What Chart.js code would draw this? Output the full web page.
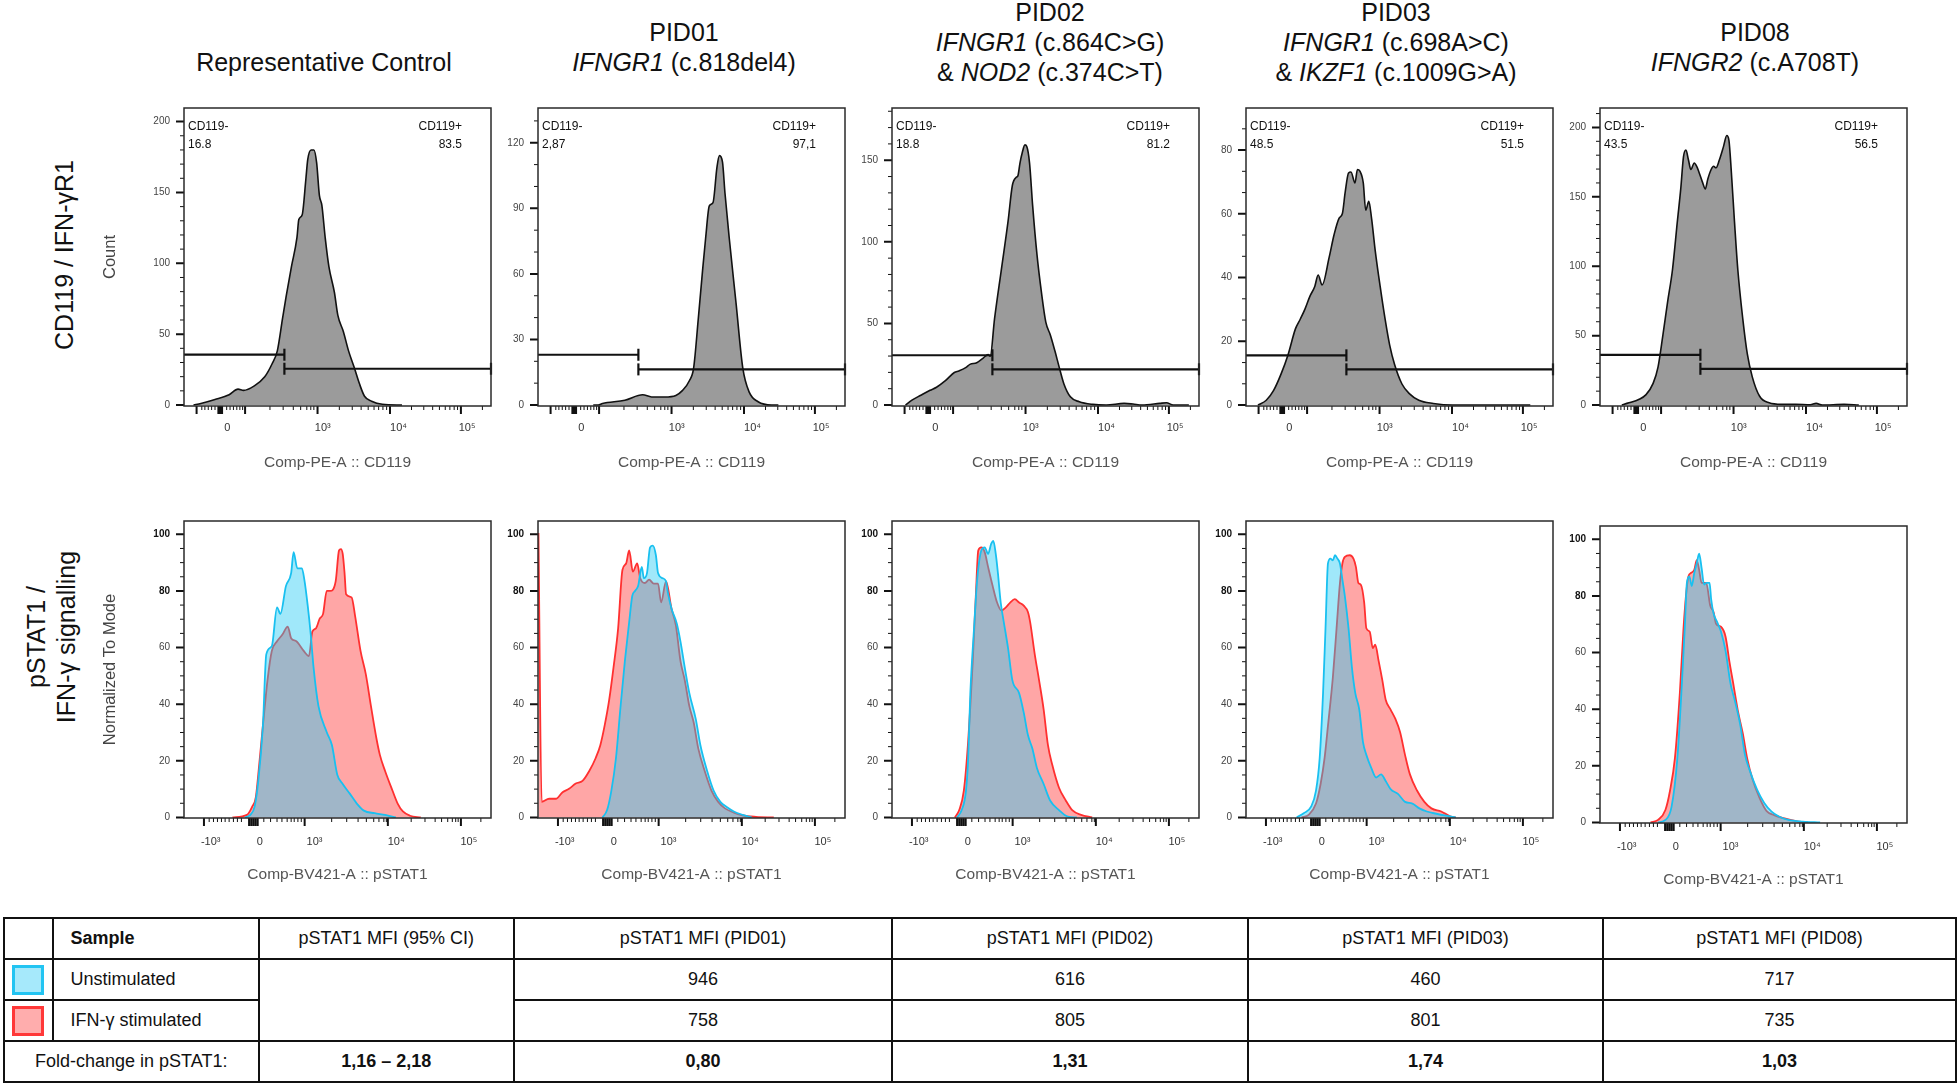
<!DOCTYPE html>
<html>
<head>
<meta charset="utf-8">
<script src="https://cdn.jsdelivr.net/npm/chart.js@4.4.1/dist/chart.umd.min.js"></script>
<style>
html,body{margin:0;padding:0;background:#fff;}
body{width:1959px;height:1088px;position:relative;overflow:hidden;font-family:"Liberation Sans",Arial,sans-serif;color:#111;}
canvas{position:absolute;}
.title{position:absolute;width:440px;text-align:center;font-size:25px;line-height:30px;transform:translateX(-50%);white-space:nowrap;}
.rot{position:absolute;font-size:25px;line-height:30px;white-space:nowrap;text-align:center;transform:translate(-50%,-50%) rotate(-90deg);}
table{position:absolute;left:3px;top:917px;width:1952px;table-layout:fixed;border-collapse:collapse;font-size:18px;color:#111;}
td{border:2px solid #111;text-align:center;padding:0;height:39px;white-space:nowrap;}
td.lft{text-align:left;padding-left:17px;}
.sw{width:26px;height:24px;margin:0 auto;}
</style>
</head>
<body>
<script>
// ================= DATA =================
const panelTitleLines = [
  ['Representative Control'],
  ['PID01', '*IFNGR1* (c.818del4)'],
  ['PID02', '*IFNGR1* (c.864C>G)', '& *NOD2* (c.374C>T)'],
  ['PID03', '*IFNGR1* (c.698A>C)', '& *IKZF1* (c.1009G>A)'],
  ['PID08', '*IFNGR2* (c.A708T)']
];
const rowLabelTop = 'CD119 / IFN-γR1';
const rowLabelBottom = ['pSTAT1 /', 'IFN-γ signalling'];
const cd119AxisTitle = 'Comp-PE-A :: CD119';
const pstatAxisTitle = 'Comp-BV421-A :: pSTAT1';
const cd119YTitle = 'Count';
const pstatYTitle = 'Normalized To Mode';

// --- CD119 histograms (x: display channel 0-1000, y: count) ---
const ctrlCD119X = [31,55,101,147,176,194,229,263,287,304,321,333,350,368,374,385,397,403,414,423,432,441,449,460,472,490,501,519,536,554,571,588,611,646,710];
const ctrlCD119Y = [0,1.1,3.9,7.3,11.2,10.3,13.5,19.9,29.1,38.2,61.1,77.1,97.7,118.3,130.9,134.3,159.5,173.2,180,180,171,148,141,118,97.7,79.4,63.4,51.9,38.2,26.8,15.3,6.2,2.7,0.5,0];
const pid01CD119X = [180,196,210,283,341,370,413,449,471,493,507,522,536,546,558,570,583,591,601,609,623,645,667,688,717,761,783];
const pid01CD119Y = [0,0,0.7,2.2,4.7,3.7,3.7,4.4,6.7,11.1,17.0,39.3,61.5,76.3,91.1,92.6,108.9,114.1,111.1,97.0,76.3,46.7,17.0,5.9,1.5,0,0];
const pid02CD119X = [44,65,94,124,145,174,203,218,240,254,276,298,313,320,334,356,378,392,404,410,417,424,433,439,448,458,472,487,501,516,531,545,560,581,610,654,698,756,785,814,872,894,916,967];
const pid02CD119Y = [0,3.0,6.0,9.0,10.9,14.9,19.9,20.9,22.9,24.9,25.9,28.9,30.9,29.9,52.8,82.7,112.5,134.5,139.4,140.4,148.4,154.4,159.4,158.4,148.4,122.5,92.6,68.7,50.8,42.8,32.9,22.9,12.9,5.0,2.0,0.4,0,1.0,0.6,0,1.0,1.4,0,0];
const pid03CD119X = [39,66,90,114,137,161,177,192,208,224,235,248,271,287,303,314,323,334,342,355,363,371,382,390,400,409,421,437,453,468,484,508,532,563,610,673,768,926];
const pid03CD119Y = [0,1.5,4.6,9.7,15.8,23.9,27.0,30.1,34.1,37.2,40.8,37.7,46.4,53.5,58.6,60.1,66.7,72.8,73.1,69.7,73.9,73.4,69.7,61.1,63.9,58.6,48.4,37.2,27.0,18.8,12.7,6.6,3.6,1.5,0.5,0,0,0];
const pid08CD119X = [71,94,126,150,173,189,205,220,236,252,263,272,280,288,296,307,315,323,334,343,351,362,370,378,389,402,413,420,428,438,449,465,480,496,520,551,591,638,685,704,724,795,843];
const pid08CD119Y = [0,1.6,4.0,7.5,15.6,27.3,50.6,74.0,97.3,132.3,155.7,179.0,183.7,176.7,169.7,174.4,172.0,167.4,160.4,155.7,162.7,169.7,172.0,170.9,176.7,186.0,194.2,190.7,167.4,132.3,97.3,62.3,36.6,20.3,6.3,1.6,0.5,0.5,0.2,1.2,0,0.5,0];

// gates (x cut in channels, y levels in counts)
const gateCut = [327,327,327,327,327];
const gateNegLevel = [35.5,23.0,30.5,15.6,36.2];
const gatePosLevel = [25.6,16.3,21.9,11.2,26.1];
const gateNegName = 'CD119-';
const gatePosName = 'CD119+';
const gateNegPct = ['16.8','2,87','18.8','48.5','43.5'];
const gatePosPct = ['83.5','97,1','81.2','51.5','56.5'];

// --- pSTAT1 histograms (x: display channel 0-1000, y: % of mode) ---
const ctrlUnstimX = [199,216,230,242,257,268,286,303,314,332,349,357,369,384,392,403,413,422,438,465,482,499,517,540,563,586,621,655,690];
const ctrlUnstimY = [0,0.9,3.8,12.9,32.4,57.6,60.5,74.2,71.9,81.7,86.3,93.7,88,88,84,74.8,64.5,53,39.3,30.1,25.5,15.2,11.8,8.4,4.9,2.4,1.5,0.9,0];
const ctrlStimX = [158,205,222,234,245,257,272,286,303,320,338,349,366,390,407,418,430,442,453,465,476,494,505,511,517,523,528,546,557,575,592,609,627,638,655,679,696,713,736,771];
const ctrlStimY = [0,0.9,3.8,7.2,18.7,32.4,48.5,58.8,62.2,64.5,67.4,63.3,62.2,58.8,57,65.6,66.8,70.2,71.9,80,80,83.4,94.3,94.8,93.1,86.3,78.8,77.7,71.4,58.8,50.7,39.3,27.8,22.1,16.4,9.5,4.9,2.1,0.6,0];
const pid01UnstimX = [210,225,239,254,268,283,297,307,316,326,338,345,355,365,374,384,391,406,417,423,435,452,464,478,493,514,529,551,572,594,616,638,667,696];
const pid01UnstimY = [0,2.6,9.5,21,38.1,55.3,69,78.2,80,81.7,88.5,84.5,86.3,95.4,96,92.6,86.3,84.5,83.4,79.4,73.7,68.5,62.2,53,43.9,34.7,25.5,16.4,9.5,5.5,3.6,2.1,0.9,0];
const pid01StimX = [1.5,12,36,58,80,101,123,145,167,188,203,217,232,246,261,275,287,297,309,323,333,348,362,377,391,401,417,435,449,464,478,493,507,522,543,565,587,609,638,667,710,768];
const pid01StimY = [100.5,5.5,6.6,6.6,8.9,10.1,12,12.9,16.4,21,25.5,32.4,41.6,53,66.8,87.4,89.7,94.3,86.8,89.7,84.5,82.8,84,82.6,82.6,76,83.4,73.7,67.9,55.3,48.5,39.3,33.6,24.4,16.4,9.5,5.5,3.2,1.7,0.7,0.2,0];
const pid02UnstimX = [212,227,241,248,255,267,277,291,302,313,323,330,338,345,354,364,378,392,414,429,443,457,472,494,515,544,573,602];
const pid02UnstimY = [0,2.6,9.5,20.6,43.5,66.4,83.4,94.3,95.4,93.1,96.6,97.7,93.1,86.3,76,69.1,59.8,48.5,43.9,37.1,29,24.4,17.5,11.8,6,2.6,0.3,0];
const pid02StimX = [205,219,234,248,263,273,281,291,302,313,328,342,356,371,385,400,414,429,443,450,465,479,494,508,522,544,566,587,616,652];
const pid02StimY = [0,2.6,9.5,26.8,55.3,78.2,94.3,95.4,93.7,88.5,81.7,76,73.1,74.2,75.9,77.1,75.9,74.8,72.5,69,57.6,48.5,38.1,25.5,18.6,10.5,6,2.6,0.9,0];
const pid03UnstimX = [165,188,212,228,240,251,259,267,275,283,290,298,306,314,322,334,345,356,369,381,392,408,424,440,455,471,495,518,542,565,589,620,652,683];
const pid03UnstimY = [0,1.5,3.8,9.5,21,43.9,66.8,89.7,91.4,90.8,92.6,91.4,89.7,84,78.2,66.8,53,43.9,38.1,26.7,22.1,17.5,14.1,15.2,12.9,10,8.3,5.5,4.9,3.2,2.1,1.3,0.6,0];
const pid03StimX = [181,204,228,243,256,267,283,295,306,314,322,338,350,358,366,374,385,392,403,413,421,432,444,455,471,487,502,518,534,557,581,604,636,667,683];
const pid03StimY = [0,0.9,4.9,11.8,21,32.4,49.6,66.8,82.8,89.7,92,92.6,91.4,88.5,82.8,82.2,75.9,66.8,65.6,59.8,61,55.3,48.5,41.6,38.1,34.7,30.1,22.1,15.2,9.5,5.5,3.2,2.1,0.3,0];
const pid08UnstimX = [189,213,233,252,265,276,283,291,299,307,315,323,331,339,346,357,362,370,381,394,409,425,441,457,472,488,512,535,559,583,614,661,717];
const pid08UnstimY = [0,0.9,5.5,22.7,45.6,68.5,84.6,86.9,83.5,88.1,91.5,94.9,89.8,84,84.6,84.6,78.9,73.8,70.9,67.4,60.6,49.1,42.3,34.4,24.1,18.3,11.5,6.9,3.8,2.1,0.9,0.3,0];
const pid08StimX = [165,189,213,228,244,260,272,280,288,296,307,315,323,331,346,359,370,378,394,409,422,433,449,465,480,496,520,543,567,598,646,677];
const pid08StimY = [0,0.9,4.4,11.2,22.7,45.6,68.5,80,86.9,88.1,89.2,92.6,89.2,84.6,84.6,76.6,74.2,70.2,69.1,65.6,56.5,49.7,39.5,31.5,22.3,15.5,8.6,4,2.6,1.5,0.3,0];

// --- axis ticks ---
const cd119TickPos = [141,452,699,922];
const cd119TickLabels = ['0','10³','10⁴','10⁵'];
const cd119MajorMarks = [41,112,116,120,124,199,435,671,902];
const cd119MinorMarks = [58,68,79,90,101,139,150,161,172,182,191,280,323,356,380,400,413,423,506,548,577,600,619,634,648,660,741,781,810,832,851,866,880,891,972];
const pstatTickPos = [87,247,425,691,928];
const pstatTickLabels = ['-10³','0','10³','10⁴','10⁵'];
const pstatMajorMarks = [65,212,219,226,233,240,393,664,902];
const pstatMinorMarks = [82,96,109,122,134,147,161,174,187,260,282,303,319,336,349,359,371,382,481,530,567,594,618,635,651,659,740,785,818,839,859,874,885,893,967];
const cd119YMin = [-0.7,-0.45,-0.6,-0.3,-0.7];
const cd119YMax = [209.6,135.9,182,93.2,214];
const cd119YStep = [50,30,50,20,50];
const cd119YMinorStep = [10,10,10,20/3,10];
const pstatYMin = -0.2, pstatYMax = 104.7, pstatYStep = 20, pstatYMinorStep = 5;

// --- table ---
const patientIds = ['PID01','PID02','PID03','PID08'];
const mfiUnstim = [946,616,460,717];
const mfiStim = [758,805,801,735];
const foldChange = ['0,80','1,31','1,74','1,03'];
const controlCI = '1,16 – 2,18';
const sampleHeader = 'Sample';
const rowNames = ['Unstimulated','IFN-γ stimulated'];
const foldLabel = 'Fold-change in pSTAT1:';

// ================= LAYOUT / STYLE =================
const FONT = "'Liberation Sans', Arial, sans-serif";
const PANEL_LEFT = [184,538,892,1246,1600];
const BOX_W = 307;
const TOP_BOX_TOP = [100,100,100,100,100], TOP_BOX_H = 306;
const BOT_BOX_TOP = [513,513,513,513,518], BOT_BOX_H = 305;
const TITLE_CENTER = [324,684,1050,1396,1755];
const TITLE_TOP = [47,17,-3,-3,17];
const Y_W = 90, PAD_T = 12, PAD_R = 14, X_H = 72;

Chart.defaults.font.family = FONT;

// titles
panelTitleLines.forEach((lines, i) => {
  const d = document.createElement('div');
  d.className = 'title';
  d.style.left = TITLE_CENTER[i] + 'px';
  d.style.top = TITLE_TOP[i] + 'px';
  lines.forEach((ln, j) => {
    if (j) d.appendChild(document.createElement('br'));
    ln.split('*').forEach((seg, k) => {
      if (!seg) return;
      if (k % 2) { const it = document.createElement('i'); it.textContent = seg; d.appendChild(it); }
      else d.appendChild(document.createTextNode(seg));
    });
  });
  document.body.appendChild(d);
});
(function(){
  const a = document.createElement('div'); a.className = 'rot';
  a.style.left = '64px'; a.style.top = '255px'; a.textContent = rowLabelTop;
  document.body.appendChild(a);
  const b = document.createElement('div'); b.className = 'rot';
  b.style.left = '51px'; b.style.top = '637px';
  b.appendChild(document.createTextNode(rowLabelBottom[0]));
  b.appendChild(document.createElement('br'));
  b.appendChild(document.createTextNode(rowLabelBottom[1]));
  document.body.appendChild(b);
})();

function stepList(max, step) { const r = []; for (let k = 0; k * step <= max + 1e-9; k++) r.push(k * step); return r; }
function minorList(max, minor, major) {
  const r = [];
  for (let k = 1; k * minor <= max + 1e-9; k++) {
    const v = k * minor, q = v / major;
    if (Math.abs(q - Math.round(q)) > 1e-6) r.push(v);
  }
  return r;
}
function pts(xs, ys) { return xs.map((x, i) => ({x: x, y: ys[i]})); }

function framePlugin(cfg) {
  return {
    id: 'frame',
    afterDraw(chart) {
      const {ctx, chartArea: a, scales} = chart;
      const xs = scales.x, ys = scales.y;
      ctx.save();
      ctx.strokeStyle = '#111';
      ctx.lineCap = 'butt';
      const xm = (list, len, w) => { ctx.lineWidth = w; ctx.beginPath(); list.forEach(v => { const p = xs.getPixelForValue(v); ctx.moveTo(p, a.bottom); ctx.lineTo(p, a.bottom + len); }); ctx.stroke(); };
      const ym = (list, len, w) => { ctx.lineWidth = w; ctx.beginPath(); list.forEach(v => { const p = ys.getPixelForValue(v); ctx.moveTo(a.left, p); ctx.lineTo(a.left - len, p); }); ctx.stroke(); };
      xm(cfg.xMinor, 4, 1); xm(cfg.xMajor, 8, 2);
      ym(cfg.yMinor, 4, 1); ym(cfg.yMajor, 8, 2);
      ctx.lineWidth = 1.5; ctx.strokeStyle = '#2a2a2a';
      ctx.strokeRect(a.left, a.top, a.right - a.left, a.bottom - a.top);
      if (cfg.gateText) {
        ctx.fillStyle = '#111';
        ctx.font = '12px ' + FONT;
        ctx.textBaseline = 'middle';
        ctx.textAlign = 'left';
        ctx.fillText(gateNegName, a.left + 4, a.top + 19);
        ctx.fillText(cfg.gateText[0], a.left + 4, a.top + 37);
        ctx.textAlign = 'right';
        ctx.fillText(gatePosName, a.right - 29, a.top + 19);
        ctx.fillText(cfg.gateText[1], a.right - 29, a.top + 37);
      }
      ctx.restore();
    }
  };
}

function makePanel(opt) {
  const cv = document.createElement('canvas');
  const w = Y_W + BOX_W + PAD_R, h = PAD_T + opt.boxH + X_H;
  cv.width = w; cv.height = h;
  cv.style.left = (opt.boxLeft - Y_W) + 'px';
  cv.style.top = (opt.boxTop - PAD_T) + 'px';
  cv.style.width = w + 'px'; cv.style.height = h + 'px';
  document.body.appendChild(cv);
  new Chart(cv.getContext('2d'), {
    type: 'line',
    data: {datasets: opt.datasets},
    options: {
      responsive: false, animation: false, devicePixelRatio: 1,
      layout: {padding: {top: PAD_T, right: PAD_R, left: 0, bottom: 0}},
      plugins: {legend: {display: false}, tooltip: {enabled: false}},
      elements: {point: {radius: 0}},
      scales: {
        x: {
          type: 'linear', min: 0, max: 1000,
          afterFit(s) { s.height = X_H; },
          afterBuildTicks(s) { s.ticks = opt.xTickPos.map(v => ({value: v})); },
          grid: {display: false, drawTicks: false}, border: {display: false},
          ticks: {autoSkip: false, maxRotation: 0, minRotation: 0, padding: opt.xPad, color: '#333',
                  font: {size: 11}, callback: v => opt.xTickLabels[opt.xTickPos.indexOf(v)]},
          title: {display: true, text: opt.xTitle, color: '#555', font: {size: 15.5}, padding: {top: 0, bottom: 6}}
        },
        y: {
          type: 'linear', min: opt.yMin, max: opt.yMax,
          afterFit(s) { s.width = Y_W; },
          afterBuildTicks(s) { s.ticks = opt.yMajor.map(v => ({value: v})); },
          grid: {display: false, drawTicks: false}, border: {display: false},
          ticks: {autoSkip: false, padding: 14,
                  color: c => (opt.boldTop && c.tick && c.tick.value >= 80) ? '#111' : '#444',
                  font: c => ({size: 10, weight: (opt.boldTop && c.tick && c.tick.value >= 80) ? 'bold' : 'normal'})},
          title: {display: !!opt.yTitle, text: opt.yTitle || '', color: '#444', font: {size: 16.5}, padding: {top: 7, bottom: 0}}
        }
      }
    },
    plugins: [framePlugin({xMajor: opt.xMajor, xMinor: opt.xMinor, yMajor: opt.yMajor, yMinor: opt.yMinor, gateText: opt.gateText})]
  });
}

// ---------- top row: CD119 ----------
const cd119Series = [[ctrlCD119X, ctrlCD119Y],[pid01CD119X, pid01CD119Y],[pid02CD119X, pid02CD119Y],[pid03CD119X, pid03CD119Y],[pid08CD119X, pid08CD119Y]];
cd119Series.forEach((s, i) => {
  const yMajor = stepList(cd119YMax[i], cd119YStep[i]);
  const yMinor = minorList(cd119YMax[i], cd119YMinorStep[i], cd119YStep[i]);
  makePanel({
    boxLeft: PANEL_LEFT[i], boxTop: TOP_BOX_TOP[i], boxH: TOP_BOX_H,
    yMin: cd119YMin[i], yMax: cd119YMax[i], yMajor, yMinor,
    xTickPos: cd119TickPos, xTickLabels: cd119TickLabels, xMajor: cd119MajorMarks, xMinor: cd119MinorMarks,
    xPad: 15, xTitle: cd119AxisTitle, yTitle: i === 0 ? cd119YTitle : null, boldTop: false,
    gateText: [gateNegPct[i], gatePosPct[i]],
    datasets: [
      {data: [{x: 0, y: gateNegLevel[i]}, {x: gateCut[i], y: gateNegLevel[i]}], borderColor: '#111', borderWidth: 2.2, fill: false,
       pointStyle: 'line', pointRotation: 90, pointRadius: [0, 6], pointBorderWidth: 2.2, pointBorderColor: '#111', clip: false, order: 0},
      {data: [{x: gateCut[i], y: gatePosLevel[i]}, {x: 1000, y: gatePosLevel[i]}], borderColor: '#111', borderWidth: 2.2, fill: false,
       pointStyle: 'line', pointRotation: 90, pointRadius: [6, 6], pointBorderWidth: 2.2, pointBorderColor: '#111', clip: false, order: 0},
      {data: pts(s[0], s[1]), borderColor: '#111', borderWidth: 1.6, backgroundColor: '#9b9b9b', fill: 'origin',
       pointRadius: 0, cubicInterpolationMode: 'monotone', order: 2}
    ]
  });
});

// ---------- bottom row: pSTAT1 ----------
const pstatSeries = [
  [ctrlUnstimX, ctrlUnstimY, ctrlStimX, ctrlStimY],
  [pid01UnstimX, pid01UnstimY, pid01StimX, pid01StimY],
  [pid02UnstimX, pid02UnstimY, pid02StimX, pid02StimY],
  [pid03UnstimX, pid03UnstimY, pid03StimX, pid03StimY],
  [pid08UnstimX, pid08UnstimY, pid08StimX, pid08StimY]
];
const pYMajor = stepList(100, pstatYStep);
const pYMinor = minorList(100, pstatYMinorStep, pstatYStep);
pstatSeries.forEach((s, i) => {
  makePanel({
    boxLeft: PANEL_LEFT[i], boxTop: BOT_BOX_TOP[i], boxH: BOT_BOX_H,
    yMin: pstatYMin, yMax: pstatYMax, yMajor: pYMajor, yMinor: pYMinor,
    xTickPos: pstatTickPos, xTickLabels: pstatTickLabels, xMajor: pstatMajorMarks, xMinor: pstatMinorMarks,
    xPad: 17, xTitle: pstatAxisTitle, yTitle: i === 0 ? pstatYTitle : null, boldTop: true,
    gateText: null,
    datasets: [
      {data: pts(s[0], s[1]), borderColor: '#19c0f0', borderWidth: 1.8, backgroundColor: 'rgba(35,202,244,0.43)', fill: 'origin',
       pointRadius: 0, cubicInterpolationMode: 'monotone', order: 1},
      {data: pts(s[2], s[3]), borderColor: '#ff3030', borderWidth: 1.8, backgroundColor: 'rgba(255,0,0,0.35)', fill: 'origin',
       pointRadius: 0, cubicInterpolationMode: 'monotone', order: 2}
    ]
  });
});

// ---------- table ----------
(function(){
  const colW = [48.5,206,255.5,378,356,355,353];
  const t = document.createElement('table');
  const cg = document.createElement('colgroup');
  colW.forEach(w => { const c = document.createElement('col'); c.style.width = w + 'px'; cg.appendChild(c); });
  t.appendChild(cg);
  const tb = document.createElement('tbody');
  const cell = (tr, txt, cls, attrs) => { const td = document.createElement('td'); if (txt !== null) td.textContent = txt; if (cls) td.className = cls; if (attrs) Object.assign(td.style, attrs); tr.appendChild(td); return td; };
  // header
  let tr = document.createElement('tr');
  cell(tr, '');
  cell(tr, sampleHeader, 'lft', {fontWeight: 'bold'});
  cell(tr, 'pSTAT1 MFI (95% CI)');
  patientIds.forEach(p => cell(tr, 'pSTAT1 MFI (' + p + ')'));
  tb.appendChild(tr);
  // rows
  const swatch = [['#22c4f2','#a6e9fb'],['#ff3838','#ffadad']];
  [mfiUnstim, mfiStim].forEach((vals, r) => {
    tr = document.createElement('tr');
    const sc = cell(tr, null);
    const sw = document.createElement('div'); sw.className = 'sw';
    sw.style.border = '3px solid ' + swatch[r][0]; sw.style.background = swatch[r][1];
    sc.appendChild(sw);
    cell(tr, rowNames[r], 'lft');
    if (r === 0) { const m = cell(tr, ''); m.rowSpan = 2; }
    vals.forEach(v => cell(tr, String(v)));
    tb.appendChild(tr);
  });
  tr = document.createElement('tr');
  const fl = cell(tr, foldLabel); fl.colSpan = 2;
  cell(tr, controlCI, null, {fontWeight: 'bold'});
  foldChange.forEach(v => cell(tr, v, null, {fontWeight: 'bold'}));
  tb.appendChild(tr);
  t.appendChild(tb);
  document.body.appendChild(t);
})();
</script>
</body>
</html>
